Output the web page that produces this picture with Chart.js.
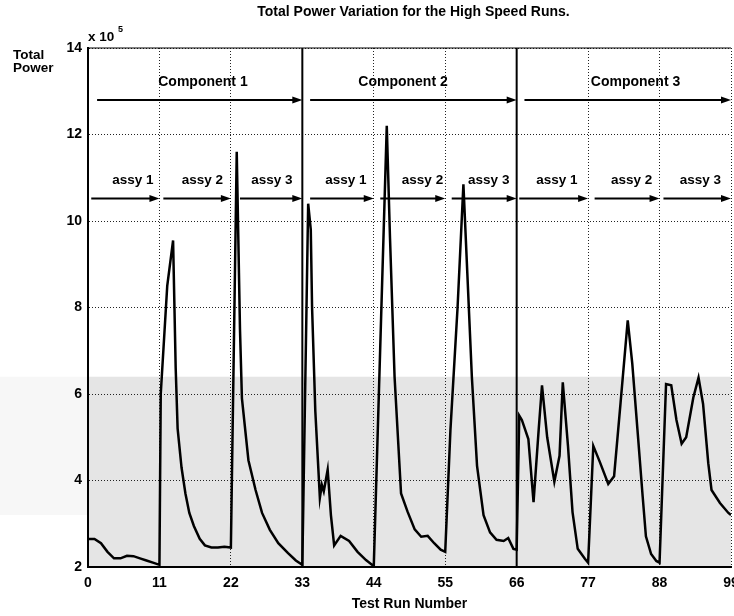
<!DOCTYPE html>
<html>
<head>
<meta charset="utf-8">
<script src="https://cdn.jsdelivr.net/npm/chart.js@4/dist/chart.umd.min.js"></script>
<style>
  html, body { margin: 0; padding: 0; background: #fff; overflow: hidden; }
  #wrap { width: 748px; height: 616px; position: relative; }
</style>
</head>
<body>
<div id="wrap"><canvas id="grafico"></canvas></div>
<script>
// Dados (potência total em unidades de 10^5)
const runs = [
  0, 1, 2, 3, 4, 5, 6, 7, 8, 9, 10, 11,
  11.2, 12.2, 13.1, 13.5, 13.8, 14.4, 15, 15.6, 16.3, 17.2, 18, 19, 20, 21, 22,
  22.9, 23.4, 23.7, 24.7, 25.8, 26.8, 28, 29.3, 30.8, 32, 33,
  33.9, 34.3, 34.5, 35, 35.7, 36, 36.3, 36.9, 37.4, 37.9, 38.9, 40.2, 41.5, 42.8, 44,
  46, 46.5, 47.2, 48.2, 49.2, 50.3, 51.3, 52.3, 53.3, 54.3, 55,
  55.8, 56.9, 57.8, 58.4, 59.1, 59.9, 60.9, 61.9, 62.9, 64, 64.7, 65.5, 66,
  66.4, 66.8, 67.8, 68.6, 69.4, 69.9, 70.7, 71.8, 72.6, 73.1, 73.9, 74.6, 75.4, 76.5, 77,
  77.8, 78.8, 80.1, 81, 82, 83.1, 83.8, 84.6, 85.4, 85.9, 86.7, 87.5, 88,
  89, 89.8, 90.6, 91.4, 92.1, 93.2, 94, 94.7, 95.5, 96, 97.3, 98.6, 99
];
const power = [
  2.65, 2.65, 2.55, 2.35, 2.2, 2.2, 2.26, 2.25, 2.2, 2.15, 2.1, 2.05,
  6.0, 8.5, 9.55, 6.6, 5.2, 4.3, 3.7, 3.25, 2.95, 2.65, 2.5, 2.45, 2.45, 2.47, 2.45,
  11.6, 7.5, 5.9, 4.47, 3.78, 3.25, 2.86, 2.55, 2.32, 2.15, 2.05,
  10.4, 9.8, 8.0, 5.6, 3.6, 3.9, 3.75, 4.25, 3.2, 2.5, 2.72, 2.6, 2.35, 2.16, 2.02,
  12.2, 9.6, 6.4, 3.7, 3.28, 2.87, 2.7, 2.72, 2.55, 2.4, 2.35,
  5.16, 8.0, 10.85, 8.8, 6.4, 4.34, 3.2, 2.8, 2.63, 2.6, 2.67, 2.42, 2.4,
  5.5, 5.4, 4.96, 3.5, 5.2, 6.2, 5.0, 3.97, 4.57, 6.27, 4.8, 3.27, 2.42, 2.19, 2.1,
  4.8, 4.43, 3.92, 4.1, 5.8, 7.7, 6.7, 5.17, 3.63, 2.71, 2.3, 2.14, 2.1,
  6.23, 6.2, 5.4, 4.85, 5.0, 5.92, 6.38, 5.77, 4.4, 3.78, 3.48, 3.25, 3.2
];
const xTicks = [0, 11, 22, 33, 44, 55, 66, 77, 88, 99];
const yTicks = [2, 4, 6, 8, 10, 12, 14];
const componentNames = ["Component 1", "Component 2", "Component 3"];
const assyNames = ["assy 1", "assy 2", "assy 3"];

const FONT = '"Liberation Sans", Arial, sans-serif';

// setas e rótulos (em unidades do gráfico)
const componentArrows = [[1.4, 33], [34.2, 66], [67.2, 99]];
const componentTextX = [17.7, 48.5, 84.3];
const assyArrows = [[0.5, 11], [11.6, 22], [23.4, 33], [34.2, 44], [45, 55], [56, 66], [66.4, 77], [78, 88], [88.6, 99]];
const assyTextX = [6.9, 17.6, 28.3, 39.7, 51.5, 61.7, 72.2, 83.7, 94.3];

function seta(ctx, x1, x2, py) {
  ctx.beginPath();
  ctx.moveTo(x1, py);
  ctx.lineTo(x2 - 6, py);
  ctx.stroke();
  ctx.beginPath();
  ctx.moveTo(x2, py);
  ctx.lineTo(x2 - 10, py - 3.5);
  ctx.lineTo(x2 - 10, py + 3.5);
  ctx.closePath();
  ctx.fill();
}

const decoracao = {
  id: "decoracao",
  beforeDraw(chart) {
    const { ctx, chartArea: a, scales: { y } } = chart;
    ctx.save();
    ctx.fillStyle = "#fff";
    ctx.fillRect(0, 0, chart.width, chart.height);
    // sombreado do scan
    const top = y.getPixelForValue(6.4);
    ctx.fillStyle = "rgba(0,0,0,0.1)";
    ctx.fillRect(a.left, top, a.width, a.bottom - top);
    ctx.fillStyle = "rgba(0,0,0,0.03)";
    ctx.fillRect(0, top, a.left, y.getPixelForValue(3.2) - top);
    ctx.restore();
  },
  afterDatasetsDraw(chart) {
    const { ctx, chartArea: a, scales: { x, y } } = chart;
    ctx.save();
    ctx.strokeStyle = "#000";
    ctx.fillStyle = "#000";

    // borda superior e divisões entre componentes
    ctx.lineWidth = 1;
    ctx.beginPath();
    ctx.moveTo(a.left, a.top);
    ctx.lineTo(a.right, a.top);
    ctx.stroke();
    ctx.lineWidth = 2;
    [33, 66].forEach(v => {
      const px = x.getPixelForValue(v);
      ctx.beginPath();
      ctx.moveTo(px, a.top);
      ctx.lineTo(px, a.bottom);
      ctx.stroke();
    });

    // setas
    ctx.lineWidth = 2;
    componentArrows.forEach(([s, e]) => seta(ctx, x.getPixelForValue(s), x.getPixelForValue(e), y.getPixelForValue(12.8)));
    assyArrows.forEach(([s, e]) => seta(ctx, x.getPixelForValue(s), x.getPixelForValue(e), y.getPixelForValue(10.52)));

    ctx.font = "bold 14px " + FONT;
    ctx.textAlign = "center";
    ctx.textBaseline = "middle";
    componentNames.forEach((t, i) => ctx.fillText(t, x.getPixelForValue(componentTextX[i]), y.getPixelForValue(13.2)));
    ctx.font = "bold 13.5px " + FONT;
    assyTextX.forEach((v, i) => ctx.fillText(assyNames[i % 3], x.getPixelForValue(v), y.getPixelForValue(10.94)));

    // título e rótulos
    ctx.font = "bold 14px " + FONT;
    ctx.fillText("Total Power Variation for the High Speed Runs.", (a.left + a.right) / 2 + 4, 12);
    ctx.textAlign = "left";
    ctx.font = "bold 13.5px " + FONT;
    ctx.fillText("Total", 13, 55);
    ctx.fillText("Power", 13, 68);
    ctx.fillText("x 10", 88, 37);
    ctx.font = "bold 9px " + FONT;
    ctx.fillText("5", 88 + 30, 30);
    ctx.restore();
  }
};

const ctx = document.getElementById("grafico");
new Chart(ctx, {
  type: "line",
  data: {
    datasets: [{
      label: "Total Power",
      data: runs.map((r, i) => ({ x: r, y: power[i] })),
      borderColor: "#000",
      borderWidth: 2.5,
      pointRadius: 0,
      tension: 0,
      fill: false
    }]
  },
  options: {
    responsive: true,
    maintainAspectRatio: false,
    animation: false,
    layout: { padding: { top: 48, right: 17, left: 0, bottom: 0 } },
    plugins: { legend: { display: false }, title: { display: false }, tooltip: { enabled: false } },
    scales: {
      x: {
        type: "linear",
        min: 0,
        max: 99,
        afterBuildTicks: s => { s.ticks = xTicks.map(v => ({ value: v })); },
        afterFit: s => { s.height = 49; },
        ticks: { color: "#000", padding: 8, maxRotation: 0, font: { family: FONT, size: 14, weight: "bold" } },
        grid: { color: "#222", lineWidth: 1, drawTicks: false },
        border: { color: "#000", width: 2, dash: [1, 2] },
        title: { display: true, text: "Test Run Number", color: "#000", padding: { top: 0, bottom: 3 }, font: { family: FONT, size: 14, weight: "bold" } }
      },
      y: {
        min: 2,
        max: 14,
        afterBuildTicks: s => { s.ticks = yTicks.map(v => ({ value: v })); },
        afterFit: s => { s.width = 88; },
        ticks: { color: "#000", padding: 6, font: { family: FONT, size: 14, weight: "bold" } },
        grid: { color: "#222", lineWidth: 1, drawTicks: false },
        border: { color: "#000", width: 2, dash: [1, 2] }
      }
    }
  },
  plugins: [decoracao]
});
</script>
</body>
</html>
